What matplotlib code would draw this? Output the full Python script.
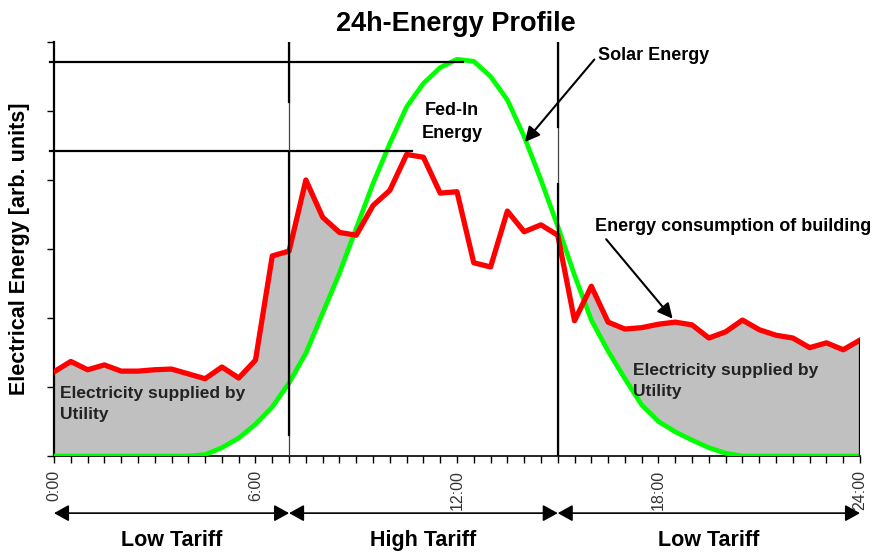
import numpy as np
import matplotlib
matplotlib.use("Agg")
import matplotlib.pyplot as plt
from matplotlib import transforms

plt.rcParams['font.family'] = ['Liberation Sans', 'DejaVu Sans']

# half-hour grid, 0:00 .. 24:00
hours = np.arange(0, 24.5, 0.5)

# energy consumption of the building (red), arb. units
consumption = np.array([
    1.22, 1.37, 1.25, 1.32, 1.23, 1.23, 1.25, 1.26, 1.19, 1.12,
    1.29, 1.13, 1.39, 2.90, 2.97, 4.00, 3.46, 3.24, 3.20, 3.63,
    3.85, 4.37, 4.33, 3.81, 3.83, 2.80, 2.74, 3.55, 3.25, 3.35,
    3.20, 1.96, 2.46, 1.94, 1.84, 1.86, 1.91, 1.94, 1.90, 1.71,
    1.80, 1.97, 1.83, 1.75, 1.71, 1.57, 1.64, 1.54, 1.68])

# solar energy (green), arb. units
solar = np.array([
    0, 0, 0, 0, 0, 0, 0, 0, 0, 0.02,
    0.12, 0.26, 0.46, 0.71, 1.06, 1.49, 2.07, 2.65, 3.30, 3.95,
    4.53, 5.06, 5.40, 5.63, 5.75, 5.72, 5.50, 5.16, 4.63, 4.00,
    3.33, 2.62, 1.97, 1.52, 1.12, 0.74, 0.50, 0.35, 0.23, 0.12,
    0.04, 0, 0, 0, 0, 0, 0, 0, 0])

# tariff periods (start, end, label)
tariffs = [(0, 7, "Low Tariff"), (7, 15, "High Tariff"), (15, 24, "Low Tariff")]
tick_labels = {0: "0:00", 6: "6:00", 12: "12:00", 18: "18:00", 24: "24:00"}

fig = plt.figure(figsize=(8.89, 5.54), dpi=100)
ax = fig.add_axes([54/889, 1 - 456/554, 806/889, 414/554])
ax.set_xlim(0, 24)
ax.set_ylim(0, 6)

# grey area = electricity supplied by utility
ax.fill_between(hours, consumption, solar, where=consumption >= solar,
                interpolate=True, color='#c0c0c0', lw=0, zorder=1)

ax.plot(hours, solar, color='#00ff00', lw=3.4, zorder=3, solid_joinstyle='round')
ax.plot(hours, consumption, color='#ff0000', lw=3.8, zorder=4, solid_joinstyle='round')

# reference lines: solar peak and consumption peak
i_sol = int(np.argmax(solar))
i_con = int(np.argmax(consumption))
ax.plot([-0.12, hours[i_sol] + 0.17], [5.71, 5.71], color='black', lw=1.6, zorder=5, clip_on=False)
ax.plot([-0.12, hours[i_con] + 0.15], [4.42, 4.42], color='black', lw=1.6, zorder=5, clip_on=False)

# tariff boundaries
for xb, segs in [(7, [(5.13, 6.0), (0.30, 4.41)]), (15, [(4.77, 6.0), (0.0, 3.94)])]:
    ax.plot([xb, xb], [0, 6], color='#444444', lw=0.9, zorder=5)
    for lo, hi in segs:
        ax.plot([xb, xb], [lo, hi], color='black', lw=1.6, zorder=5)
ax.plot([24, 24], [0, consumption[-1]], color='black', lw=1.6, zorder=5)

# axes styling
for s in ['top', 'right']:
    ax.spines[s].set_visible(False)
ax.spines['left'].set_linewidth(1.6)
ax.spines['bottom'].set_linewidth(1.2)
ax.set_xticks(hours)
ax.set_xticklabels([tick_labels.get(h, "") for h in hours])
ax.tick_params(axis='x', direction='out', length=5, width=1, labelrotation=90,
               labelsize=11.5, pad=5, labelcolor='#333333')
ax.set_yticks(range(7))
ax.set_yticklabels([])
ax.tick_params(axis='y', direction='out', length=5, width=1)

fig.text(20/889, 1 - 249/554, "Electrical Energy [arb. units]", rotation=90,
         ha='center', va='center', fontsize=15.5, fontweight='bold')
fig.text(456/889, 1 - 31/554, "24h-Energy Profile", ha='center', va='baseline',
         fontsize=19.5, fontweight='bold')

# annotations
ax.text(11.85, 4.84, "Fed-In\nEnergy", ha='center', va='center', fontsize=13,
        fontweight='bold', linespacing=1.45)
ax.annotate("Solar Energy", xy=(14.02, 4.55), xytext=(16.2, 5.81),
            ha='left', va='center', fontsize=13, fontweight='bold',
            arrowprops=dict(arrowstyle='-|>,head_length=0.9,head_width=0.45',
                            mutation_scale=10, color='black', lw=1.5,
                            shrinkA=1, shrinkB=0, relpos=(0, 0.5)))
ax.annotate("Energy consumption of building", xy=(18.42, 1.99), xytext=(16.1, 3.32),
            ha='left', va='center', fontsize=13, fontweight='bold', annotation_clip=False,
            arrowprops=dict(arrowstyle='-|>,head_length=0.9,head_width=0.45',
                            mutation_scale=10, color='black', lw=1.5,
                            shrinkA=1, shrinkB=0, relpos=(0.03, 0)))
ax.text(0.18, 0.76, "Electricity supplied by\nUtility", ha='left', va='center',
        fontsize=12.5, fontweight='bold', color='#222222', linespacing=1.5, zorder=6)
ax.text(17.23, 1.09, "Electricity supplied by\nUtility", ha='left', va='center',
        fontsize=12.5, fontweight='bold', color='#222222', linespacing=1.5, zorder=6)

# tariff arrows below the axis
trans = transforms.blended_transform_factory(ax.transData, ax.transAxes)
for start, end, label in tariffs:
    ax.annotate("", xy=(start, -0.138), xytext=(end, -0.138), xycoords=trans,
                textcoords=trans, annotation_clip=False,
                arrowprops=dict(arrowstyle='<|-|>,head_length=0.9,head_width=0.5',
                                mutation_scale=10, color='black', lw=1.2,
                                shrinkA=0, shrinkB=0))
    ax.text((start + end) / 2, -0.203, label, transform=trans, ha='center',
            va='center', fontsize=15.5, fontweight='bold')

fig.savefig("out.png", dpi=100)
